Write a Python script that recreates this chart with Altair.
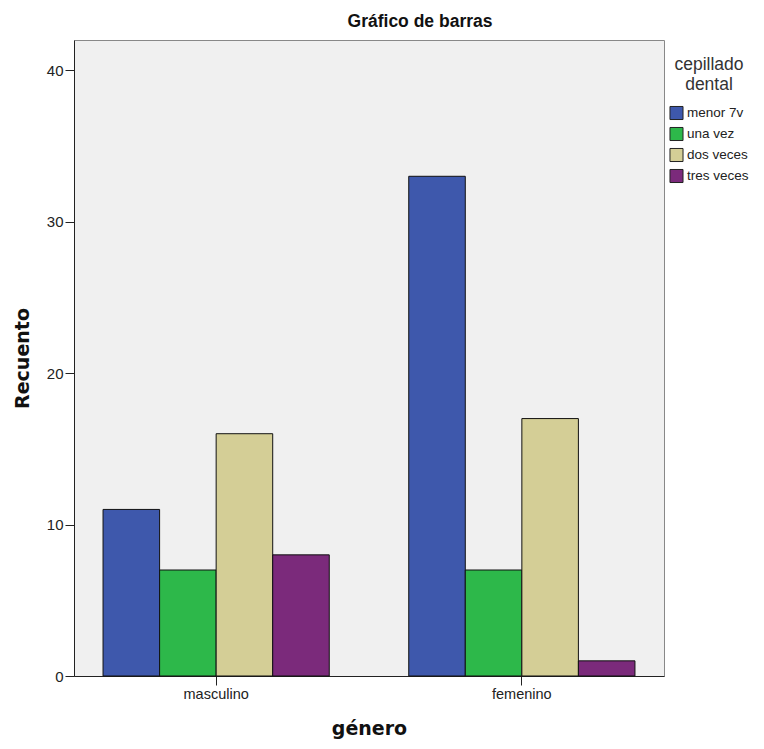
import altair as alt
import pandas as pd

generos = ["masculino", "femenino"]
cepillado = ["menor 7v", "una vez", "dos veces", "tres veces"]
recuento_masculino = [11, 7, 16, 8]
recuento_femenino = [33, 7, 17, 1]
colores = ["#3E58AC", "#2DB84A", "#D4CE96", "#7B2A7B"]

rows = []
for g, vals in zip(generos, [recuento_masculino, recuento_femenino]):
    for c, v in zip(cepillado, vals):
        rows.append({"genero": g, "cepillado": c, "recuento": v})
df = pd.DataFrame(rows)

chart = alt.Chart(df).mark_bar(stroke="#111111", strokeWidth=1).encode(
    x=alt.X("genero:N", sort=generos, title="género",
            scale=alt.Scale(paddingInner=0.26, paddingOuter=0.095),
            axis=alt.Axis(labelAngle=0, labelFont="Liberation Sans", labelFontSize=14.5,
                          labelColor="#222222", tickSize=9, tickColor="#222222",
                          domainColor="#222222", labelPadding=2,
                          titleFont="DejaVu Sans", titleFontSize=19, titleFontWeight="bold",
                          titleColor="#111111", titlePadding=19)),
    xOffset=alt.XOffset("cepillado:N", sort=cepillado),
    y=alt.Y("recuento:Q", title="Recuento",
            scale=alt.Scale(domain=[0, 42], nice=False),
            axis=alt.Axis(values=[0, 10, 20, 30, 40], grid=False, labelFont="Liberation Sans",
                          labelFontSize=15, labelColor="#222222", tickSize=9,
                          tickColor="#222222", domainColor="#222222", labelPadding=2,
                          titleFont="DejaVu Sans", titleFontSize=19, titleFontWeight="bold",
                          titleColor="#111111", titlePadding=14)),
    color=alt.Color("cepillado:N", sort=cepillado,
                    scale=alt.Scale(domain=cepillado, range=colores),
                    legend=alt.Legend(title=["cepillado", "dental"], orient="none",
                                      legendX=595, legendY=16, titleFont="Liberation Sans",
                                      titleFontSize=17.5, titleFontWeight="normal",
                                      titleColor="#333333", titleAlign="center",
                                      titleAnchor="middle", titleLineHeight=20,
                                      titlePadding=12,
                                      labelFont="Liberation Sans", labelFontSize=13.5,
                                      labelColor="#222222", symbolType="square",
                                      symbolSize=170, symbolStrokeColor="#222222",
                                      symbolStrokeWidth=1, symbolOpacity=1,
                                      rowPadding=2, labelOffset=3)),
).properties(
    width=590,
    height=636,
    title=alt.TitleParams("Gráfico de barras", font="Liberation Sans", fontSize=17.5,
                          fontWeight="bold", color="#111111", anchor="middle",
                          frame="group", dx=51, offset=10),
    autosize=alt.AutoSizeParams(type="none"),
    padding={"left": 66, "top": 32, "right": 90, "bottom": 65},
).configure_view(
    fill="#F0F0F0", stroke="#888888", strokeWidth=1
)

chart.save("out.html", embed_options={"renderer": "svg", "actions": False})
